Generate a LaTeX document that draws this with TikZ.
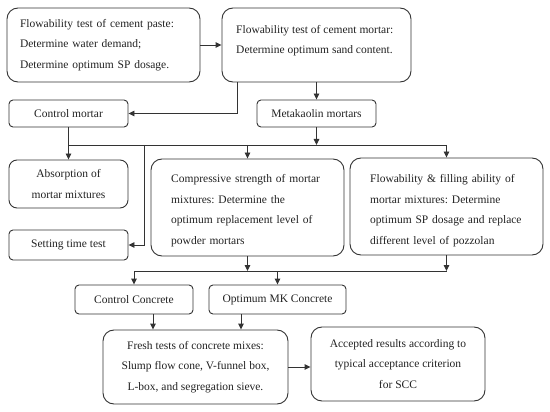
\documentclass[tikz,border=0pt]{standalone}
\usepackage{fontspec}
\setmainfont{Liberation Serif}
\usetikzlibrary{arrows.meta}
\definecolor{ln}{HTML}{333333}
\definecolor{tx}{HTML}{222222}
\frenchspacing
\begin{document}
\begin{tikzpicture}[x=1pt,y=-1pt,
  box/.style={draw=ln, line width=0.9pt, rounded corners=4pt, inner sep=0pt,
    text=tx, font=\fontsize{11.5}{20.5}\selectfont\frenchspacing, align=center},
  bigbox/.style={box, rounded corners=11pt},
  txt/.style={inner sep=0pt, text=tx, font=\fontsize{11.5}{20.5}\selectfont\frenchspacing, align=left},
  arr/.style={draw=ln, line width=0.9pt, -{Triangle[length=6pt,width=5.5pt]}},
  ln/.style={draw=ln, line width=0.9pt}]
\useasboundingbox (0,0) rectangle (550,412);

\node[bigbox, minimum width=193pt, minimum height=74pt, text width=167pt, inner xsep=13pt, align=left] (A) at (103.5,45)
  {Flowability test of cement paste:\\Determine water demand;\\Determine optimum SP dosage.};
\node[bigbox, minimum width=189pt, minimum height=74pt] (B) at (316.5,45) {};
\node[txt, anchor=west] (Bt) at (236,40.5) {Flowability test of cement mortar:\\Determine optimum sand content.};

\node[box, minimum width=119pt, minimum height=27pt] (CM) at (68.5,113.5) {Control mortar};
\node[box, minimum width=119pt, minimum height=27pt] (MM) at (316.5,113.5) {Metakaolin mortars};

\node[box, rounded corners=8pt, minimum width=119pt, minimum height=48pt] (AB) at (68.5,184) {Absorption of\\mortar mixtures};
\node[box, minimum width=119pt, minimum height=30pt] (ST) at (68.5,245) {Setting time test};

\node[bigbox, minimum width=193pt, minimum height=97pt] (CS) at (247.5,207.5) {};
\node[txt, anchor=west, text width=153pt] (CSt) at (171,210.5)
  {Compressive strength of mortar\\mixtures: Determine the\\optimum replacement level of\\powder mortars};
\node[bigbox, minimum width=193pt, minimum height=97pt] (FF) at (446.5,206.5) {};
\node[txt, anchor=west, text width=153pt] (FFt) at (370,210.5)
  {Flowability \& filling ability of\\mortar mixtures: Determine\\optimum SP dosage and replace\\different level of pozzolan};

\node[box, minimum width=118pt, minimum height=29pt] (CC) at (134,299.5) {Control Concrete};
\node[box, minimum width=137pt, minimum height=29pt] (OM) at (277.5,299.5) {Optimum MK Concrete};

\node[bigbox, minimum width=185pt, minimum height=74pt] (FR) at (195.5,367)
  {Fresh tests of concrete mixes:\\Slump flow cone, V-funnel box,\\L-box, and segregation sieve.};
\node[bigbox, minimum width=174pt, minimum height=74pt] (AC) at (398,364)
  {Accepted results according to\\typical acceptance criterion\\for SCC};

% connectors
\draw[arr] (A.east) -- (A.east -| B.west);
\coordinate (b1) at ([xshift=16pt]B.south west);
\draw[arr] (b1) |- (CM.east);
\draw[arr] (B.south) -- (MM.north);

\coordinate (h1) at (144,145);
\draw[ln] (CM.south |- h1) -- (FF.north |- h1);
\draw[arr] (CM.south) -- (AB.north);
\draw[arr] (MM.south) -- (MM.south |- h1);
\draw[arr] (CS.north |- h1) -- (CS.north);
\draw[arr] (FF.north |- h1) -- (FF.north);
\draw[arr] (h1) |- (ST.east);

\coordinate (h3) at (200,271);
\draw[ln] (CC.north |- h3) -- (FF.south |- h3);
\draw[arr] (CS.south) -- (CS.south |- h3);
\draw[arr] (FF.south) -- (FF.south |- h3);
\draw[arr] (CC.north |- h3) -- (CC.north);
\draw[arr] (OM.north |- h3) -- (OM.north);

\coordinate (c1) at ([xshift=19pt]CC.south);
\coordinate (o1) at ([xshift=-36.5pt]OM.south);
\draw[arr] (c1) -- (c1 |- FR.north);
\draw[arr] (o1) -- (o1 |- FR.north);
\draw[arr] (FR.east) -- (FR.east -| AC.west);
\end{tikzpicture}
\end{document}
